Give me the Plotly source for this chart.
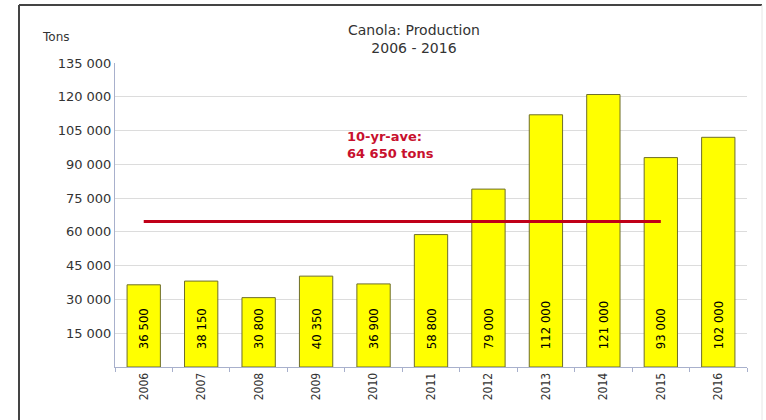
import plotly.graph_objects as go

years = ["2006", "2007", "2008", "2009", "2010", "2011", "2012", "2013", "2014", "2015", "2016"]
production = [36500, 38150, 30800, 40350, 36900, 58800, 79000, 112000, 121000, 93000, 102000]
bar_labels = ["36 500", "38 150", "30 800", "40 350", "36 900", "58 800", "79 000", "112 000", "121 000", "93 000", "102 000"]
avg_years = ["2006", "2015"]
avg_value = 64650
y_tickvals = [15000, 30000, 45000, 60000, 75000, 90000, 105000, 120000, 135000]
y_ticktext = ["15 000", "30 000", "45 000", "60 000", "75 000", "90 000", "105 000", "120 000", "135 000"]

narrow = "DejaVu Sans Condensed, Liberation Sans Narrow, Arial Narrow, sans-serif"
main_font = "DejaVu Sans, Verdana, sans-serif"

fig = go.Figure()
fig.add_trace(go.Bar(
    x=years, y=production, text=bar_labels,
    texttemplate="\u00a0\u00a0\u00a0\u00a0%{text}",
    textposition="inside", insidetextanchor="start", textangle=-90,
    textfont=dict(family=narrow, size=13, color="#000000"),
    marker=dict(color="#FFFF00", line=dict(color="#6E6E2A", width=1)),
    width=0.58, showlegend=False, hoverinfo="x+y",
))
fig.add_trace(go.Scatter(
    x=avg_years, y=[avg_value, avg_value], mode="lines",
    line=dict(color="#C00018", width=3), showlegend=False, hoverinfo="skip",
))

fig.update_layout(
    width=766, height=420,
    margin=dict(l=115, r=19, t=63, b=53),
    paper_bgcolor="#FFFFFF", plot_bgcolor="#FFFFFF",
    font=dict(family=main_font, color="#333333", size=11),
    uniformtext=dict(mode="show", minsize=8),
    xaxis=dict(
        type="category", tickangle=-90, showgrid=False,
        tickfont=dict(family=narrow, size=12, color="#333333"),
        showline=True, linecolor="#A8B0CC", linewidth=1,
        ticks="outside", ticklen=4, tickcolor="#A8B0CC",
        tickson="boundaries",
    ),
    yaxis=dict(
        range=[0, 135000], tickvals=y_tickvals, ticktext=y_ticktext,
        showgrid=True, gridcolor="#DCDCDC", gridwidth=1,
        showline=True, linecolor="#A8B0CC", linewidth=1,
        ticks="", zeroline=False,
        tickfont=dict(family=main_font, size=13, color="#333333"),
    ),
    annotations=[
        dict(text="Canola: Production<br>2006 - 2016", xref="paper", yref="paper",
             x=(414 - 115) / 632, y=(367 - 39) / 304, xanchor="center", yanchor="middle",
             showarrow=False, font=dict(family=main_font, size=14, color="#333333")),
        dict(text="Tons", xref="paper", yref="paper",
             x=(40 - 115) / 632, y=(367 - 37) / 304, xanchor="left", yanchor="middle",
             showarrow=False, font=dict(family=main_font, size=12, color="#333333")),
        dict(text="<b>10-yr-ave:<br>64 650 tons</b>", xref="paper", yref="paper",
             x=(345 - 115) / 632, y=(367 - 145) / 304, xanchor="left", yanchor="middle", align="left",
             showarrow=False, font=dict(family=main_font, size=13, color="#C8102E")),
    ],
    shapes=[
        dict(type="line", xref="paper", yref="paper", x0=(19 - 115) / 632, x1=(762 - 115) / 632,
             y0=(367 - 5) / 304, y1=(367 - 5) / 304, line=dict(color="#444444", width=2)),
        dict(type="line", xref="paper", yref="paper", x0=(19 - 115) / 632, x1=(19 - 115) / 632,
             y0=(367 - 5) / 304, y1=(367 - 421) / 304, line=dict(color="#444444", width=2)),
        dict(type="line", xref="paper", yref="paper", x0=(762 - 115) / 632, x1=(762 - 115) / 632,
             y0=(367 - 5) / 304, y1=(367 - 421) / 304, line=dict(color="#E6E6E6", width=1)),
    ],
)

fig.write_html("out.html", config={"displayModeBar": False},
               post_script="document.body.style.margin='0';")
